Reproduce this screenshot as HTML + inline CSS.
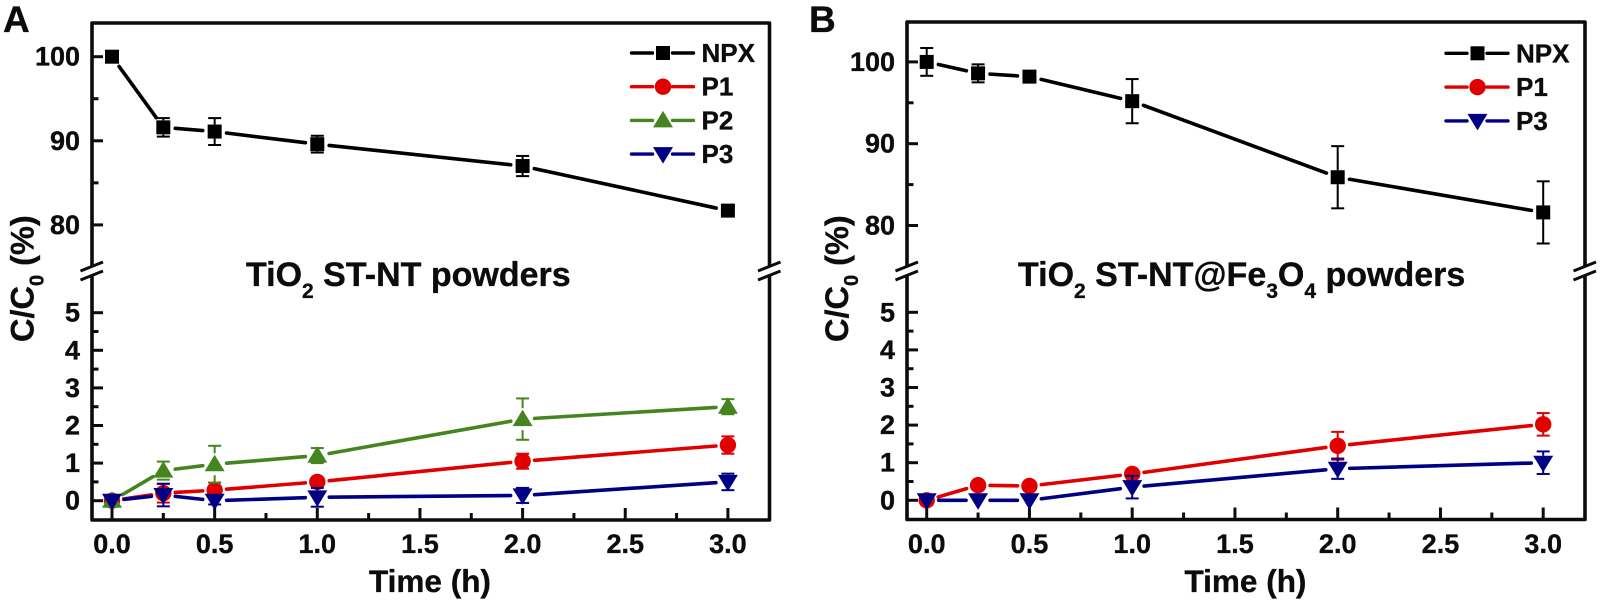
<!DOCTYPE html>
<html lang="en">
<head>
<meta charset="utf-8">
<title>C/C0 versus time for TiO2 ST-NT powders</title>
<style>
html,body{margin:0;padding:0;background:#fff;}
body{width:1600px;height:602px;overflow:hidden;}
svg{display:block;}
text{font-family:"Liberation Sans",Arial,sans-serif;font-weight:bold;fill:#0c0c0c;stroke:#0c0c0c;stroke-width:.35px;}
</style>
</head>
<body>
<svg id="chart" xmlns="http://www.w3.org/2000/svg" width="1600" height="602" viewBox="0 0 1600 602"></svg>
<script>
const times = [0, 0.25, 0.5, 1, 2, 3];
const xTickValues = [0, 0.25, 0.5, 0.75, 1, 1.25, 1.5, 1.75, 2, 2.25, 2.5, 2.75, 3];
const xTickLabels = ["0.0", "0.5", "1.0", "1.5", "2.0", "2.5", "3.0"];
const xTickLabelValues = [0, 0.5, 1, 1.5, 2, 2.5, 3];
const upperTickValues = [80, 85, 90, 95, 100];
const upperTickLabels = ["80", "90", "100"];
const lowerTickValues = [0, 0.5, 1, 1.5, 2, 2.5, 3, 3.5, 4, 4.5, 5];
const lowerTickLabels = ["0", "1", "2", "3", "4", "5"];

const seriesNamesA = ["NPX", "P1", "P2", "P3"];
const seriesNamesB = ["NPX", "P1", "P3"];

const npxA = [100, 91.6, 91.1, 89.6, 87.0, 81.7];
const npxErrA = [0, 1.1, 1.6, 1.0, 1.2, 0.4];
const p1A = [0, 0.2, 0.28, 0.5, 1.05, 1.48];
const p1ErrA = [0, 0.25, 0.2, 0.1, 0.2, 0.23];
const p2A = [0, 0.8, 0.97, 1.2, 2.17, 2.5];
const p2ErrA = [0, 0.24, 0.49, 0.2, 0.55, 0.2];
const p3A = [0, 0.15, 0, 0.09, 0.14, 0.5];
const p3ErrA = [0, 0.3, 0.1, 0.25, 0.2, 0.22];

const npxB = [100, 98.6, 98.2, 95.2, 85.9, 81.6];
const npxErrB = [1.7, 1.1, 0.3, 2.7, 3.8, 3.8];
const p1B = [0, 0.4, 0.38, 0.7, 1.45, 2.02];
const p1ErrB = [0, 0.05, 0.05, 0.1, 0.37, 0.3];
const p3B = [0, 0, 0, 0.35, 0.84, 1.0];
const p3ErrB = [0, 0, 0, 0.3, 0.27, 0.3];

const NS = "http://www.w3.org/2000/svg";
const svg = document.getElementById("chart");

const STYLES = {
  NPX: {color: "#000000", marker: "square", gap: 7},
  P1: {color: "#e00000", marker: "circle", gap: 7},
  P2: {color: "#45851f", marker: "up", gap: 11},
  P3: {color: "#000085", marker: "down", gap: 7}
};

function make(parent, tag, attrs) {
  const el = document.createElementNS(NS, tag);
  for (const k in attrs) el.setAttribute(k, attrs[k]);
  parent.appendChild(el);
  return el;
}
function line(parent, x1, y1, x2, y2, color, width, cap) {
  return make(parent, "line", {x1: x1, y1: y1, x2: x2, y2: y2, stroke: color, "stroke-width": width, "stroke-linecap": cap || "butt"});
}
function label(parent, x, y, size, anchor, str) {
  const t = make(parent, "text", {x: x, y: y, "font-size": size, "text-anchor": anchor});
  t.textContent = str;
  return t;
}
function drawMarker(parent, kind, cx, cy, color) {
  if (kind === "square") return make(parent, "rect", {x: cx - 7, y: cy - 7, width: 14, height: 14, fill: color});
  if (kind === "circle") return make(parent, "circle", {cx: cx, cy: cy, r: 8.2, fill: color});
  if (kind === "up") return make(parent, "polygon", {points: (cx - 10) + "," + (cy + 7) + " " + (cx + 10) + "," + (cy + 7) + " " + cx + "," + (cy - 9.5), fill: color});
  return make(parent, "polygon", {points: (cx - 10) + "," + (cy - 7) + " " + (cx + 10) + "," + (cy - 7) + " " + cx + "," + (cy + 9.5), fill: color});
}

function drawPanel(cfg) {
  const panel = make(svg, "g", {});
  
  

  const xScale = function (t) { return cfg.x0 + t * cfg.xUnit; };
  const yScale = function (v) {
    if (v >= 50) return cfg.y100 + (100 - v) * cfg.upperUnit;
    return cfg.y0 - v * cfg.lowerUnit;
  };

  // panel letter
  const letter = label(panel, cfg.letterX, 32, 37, "start", cfg.letter);
  
  

  // frame
  const frame = make(panel, "path", {
    d: "M" + cfg.left + " " + cfg.breakY + "V" + cfg.top + "H" + cfg.right + "V" + cfg.breakY +
       "M" + cfg.left + " " + (cfg.breakY + 8) + "V" + cfg.bottom + "H" + cfg.right + "V" + (cfg.breakY + 8),
    fill: "none", stroke: "#0c0c0c", "stroke-width": 3.6, "stroke-linejoin": "round"
  });
  
  

  // axis breaks
  [cfg.left, cfg.right].forEach(function (bx) {
    const br = make(panel, "g", {});
    
    
    line(br, bx - 11.5, cfg.breakY + 4, bx + 11, cfg.breakY - 5, "#0c0c0c", 3);
    line(br, bx - 11.5, cfg.breakY + 13, bx + 11, cfg.breakY + 4, "#0c0c0c", 3);
  });

  // x ticks
  xTickValues.forEach(function (v, i) {
    const len = i % 2 === 0 ? 12 : 7;
    const t = line(panel, xScale(v), cfg.bottom, xScale(v), cfg.bottom - len, "#0c0c0c", 3);
    
    
  });
  xTickLabels.forEach(function (s, i) {
    const t = label(panel, xScale(xTickLabelValues[i]), 553, 27, "middle", s);
    
    
  });

  // y ticks
  upperTickValues.forEach(function (v, i) {
    const len = i % 2 === 0 ? 11 : 6.5;
    const t = line(panel, cfg.left, yScale(v), cfg.left + len, yScale(v), "#0c0c0c", 3);
    
    
  });
  upperTickLabels.forEach(function (s) {
    const t = label(panel, cfg.left - 12, yScale(Number(s)) + 9, 27, "end", s);
    
    
  });
  lowerTickValues.forEach(function (v, i) {
    const len = i % 2 === 0 ? 11 : 6.5;
    const t = line(panel, cfg.left, yScale(v), cfg.left + len, yScale(v), "#0c0c0c", 3);
    
    
  });
  lowerTickLabels.forEach(function (s) {
    const t = label(panel, cfg.left - 12, yScale(Number(s)) + 9, 27, "end", s);
    
    
  });

  // axis titles
  const xTitle = label(panel, cfg.xTitleX, 592, 31.5, "start", "Time (h)");
  
  

  const yTitle = make(panel, "text", {transform: "translate(" + cfg.yTitleX + " 342) rotate(-90)", "font-size": 32.5});
  
  
  yTitle.innerHTML = '<tspan>C/C</tspan><tspan dy="10" font-size="20">0</tspan><tspan dy="-10"> (%)</tspan>';

  // annotation
  const note = make(panel, "text", {x: cfg.noteX, y: 286, "font-size": 34});
  
  
  note.innerHTML = cfg.noteHtml;

  // series
  cfg.series.forEach(function (s) {
    const st = STYLES[s.name];
    const g = make(panel, "g", {});
    
    

    times.forEach(function (t, i) {
      const err = s.err[i];
      if (!err) return;
      const cx = xScale(t), cy = yScale(s.values[i]);
      const yTop = yScale(s.values[i] + err), yBot = yScale(s.values[i] - err);
      const eb = make(g, "g", {stroke: st.color, "stroke-width": 2});
      
      
      if (yTop < cy - st.gap) line(eb, cx, yTop, cx, cy - st.gap, st.color, 2);
      if (yBot > cy + st.gap) line(eb, cx, yBot, cx, cy + st.gap, st.color, 2);
      line(eb, cx - 6.5, yTop, cx + 6.5, yTop, st.color, 2);
      line(eb, cx - 6.5, yBot, cx + 6.5, yBot, st.color, 2);
    });

    for (let i = 0; i < times.length - 1; i++) {
      const x1 = xScale(times[i]), y1 = yScale(s.values[i]);
      const x2 = xScale(times[i + 1]), y2 = yScale(s.values[i + 1]);
      const d = Math.hypot(x2 - x1, y2 - y1);
      const trim = 12;
      if (d <= trim * 2) continue;
      const ux = (x2 - x1) / d, uy = (y2 - y1) / d;
      const seg = line(g, x1 + ux * trim, y1 + uy * trim, x2 - ux * trim, y2 - uy * trim, st.color, 3.6, "round");
      
      
    }

    times.forEach(function (t, i) {
      const m = drawMarker(g, st.marker, xScale(t), yScale(s.values[i]), st.color);
      
      
    });
  });

  // legend
  const legend = make(panel, "g", {});
  
  
  cfg.series.forEach(function (s, i) {
    const st = STYLES[s.name];
    const y = cfg.legendY + i * cfg.legendStep;
    const entry = make(legend, "g", {});
    
    
    line(entry, cfg.legendX, y, cfg.legendX + 21, y, st.color, 3.4, "round");
    line(entry, cfg.legendX + 41, y, cfg.legendX + 62, y, st.color, 3.4, "round");
    drawMarker(entry, st.marker, cfg.legendX + 31.5, y, st.color);
    label(entry, cfg.legendX + 70, y + 9, 26, "start", s.name);
  });
}

drawPanel({
  id: "panel-a", letter: "A", letterX: 3,
  left: 92, right: 769.5, top: 23, bottom: 520, breakY: 267,
  x0: 112, xUnit: 205.3, y100: 56.7, upperUnit: 8.41, y0: 500.7, lowerUnit: 37.6,
  xTitleX: 369, yTitleX: 33.5, noteX: 246,
  noteHtml: '<tspan>TiO</tspan><tspan dy="12" font-size="21">2</tspan><tspan dy="-12"> ST-NT powders</tspan>',
  legendX: 631.5, legendY: 53, legendStep: 33.7,
  series: [
    {name: seriesNamesA[0], values: npxA, err: npxErrA},
    {name: seriesNamesA[1], values: p1A, err: p1ErrA},
    {name: seriesNamesA[2], values: p2A, err: p2ErrA},
    {name: seriesNamesA[3], values: p3A, err: p3ErrA}
  ]
});

drawPanel({
  id: "panel-b", letter: "B", letterX: 809,
  left: 907, right: 1585, top: 22, bottom: 519.5, breakY: 267,
  x0: 926.7, xUnit: 205.5, y100: 61.9, upperUnit: 8.18, y0: 500.3, lowerUnit: 37.6,
  xTitleX: 1184.5, yTitleX: 848, noteX: 1018,
  noteHtml: '<tspan>TiO</tspan><tspan dy="12" font-size="21">2</tspan><tspan dy="-12"> ST-NT@Fe</tspan><tspan dy="12" font-size="21">3</tspan><tspan dy="-12">O</tspan><tspan dy="12" font-size="21">4</tspan><tspan dy="-12"> powders</tspan>',
  legendX: 1446, legendY: 53.3, legendStep: 33.8,
  series: [
    {name: seriesNamesB[0], values: npxB, err: npxErrB},
    {name: seriesNamesB[1], values: p1B, err: p1ErrB},
    {name: seriesNamesB[2], values: p3B, err: p3ErrB}
  ]
});
</script>
</body>
</html>
